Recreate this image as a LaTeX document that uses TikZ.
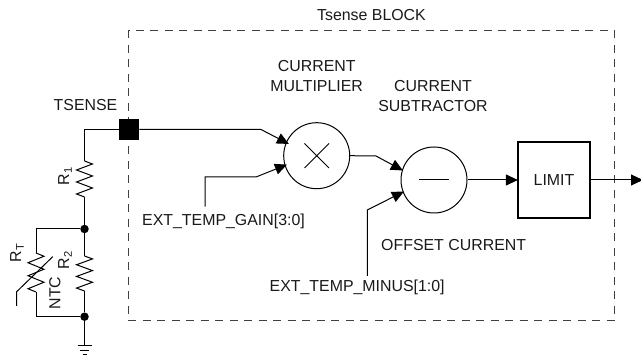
\documentclass[tikz,border=0pt]{standalone}
\usepackage{fontspec}
\setmainfont{Liberation Sans}
\usetikzlibrary{arrows.meta,calc}
\tikzset{
  wire/.style={draw=black,line width=1pt,line join=miter},
  sig/.style={wire,-{Triangle[length=12pt,width=11pt]},shorten >=-1pt},
  txt/.style={inner sep=0pt,font=\fontsize{15.9}{18}\selectfont,text=black!90},
  sop/.style={circle,draw=black,line width=1pt,minimum size=66pt,inner sep=0pt},
  dotn/.style={circle,fill=black,minimum size=8.5pt,inner sep=0pt},
  zig/.style={wire}
}
\newcommand{\vzig}[3]{% x, ytop, ybottom : zigzag with 3 full periods
  \pgfmathsetmacro{\zs}{(#3-#2)/6}
  \draw[zig] (#1,#2) -- ++(8,\zs*0.5) -- ++(-16,\zs) -- ++(16,\zs) -- ++(-16,\zs) -- ++(16,\zs) -- ++(-16,\zs) -- ++(8,\zs*0.5);
}
\begin{document}
\begin{tikzpicture}[x=1pt,y=-1pt]
\useasboundingbox (0,0) rectangle (641,355);
\draw[line width=1pt,draw=black!75,dash pattern=on 8pt off 6.5pt] (128.5,30.5) rectangle (614,321);

\node[txt] (title) at (371.5,15.5) {Tsense BLOCK};
\node[txt] (tsense) at (85.5,105) {TSENSE};
\node[txt] (m1) at (316.7,66.5) {CURRENT};
\node[txt] (m2) at (316.7,86.5) {MULTIPLIER};
\node[txt] (s1) at (433,86.5) {CURRENT};
\node[txt] (s2) at (433,106.5) {SUBTRACTOR};
\node[txt,anchor=west] (gain) at (142,221) {EXT\_TEMP\_GAIN[3:0]};
\node[txt,anchor=west] (offs) at (381,245) {OFFSET CURRENT};
\node[txt,anchor=west] (minus) at (269.5,287) {EXT\_TEMP\_MINUS[1:0]};
\node[txt,rotate=90] (r1) at (65,176) {R\textsubscript{1}};
\node[txt,rotate=90] (r2) at (65,260) {R\textsubscript{2}};
\node[txt,rotate=90] (rt) at (17,253) {R\textsubscript{T}};
\node[txt,rotate=90] (ntc) at (55,293) {NTC};

\node[fill=black,minimum size=20.5pt,inner sep=0pt] (pin) at (129,129.5) {};
\node[sop] (mul) at (316.7,155.7) {};
\node[sop] (sub) at (434,180) {};
\node[draw=black,line width=2.2pt,minimum width=72pt,minimum height=76pt,inner sep=0pt,txt] (lim) at (554,180) {LIMIT};
\node[dotn] (j1) at (84.5,229) {};
\node[dotn] (j2) at (84.5,316.7) {};

\draw[wire] (304.5,143.5) -- (329,168) (329,143.5) -- (304.5,168);
\draw[wire] (419,180) -- (449,180);

% TSENSE pin to R1 to junction
\coordinate (r1t) at (84.5,161);
\coordinate (r1b) at (84.5,197);
\draw[wire] (pin.west) -| (r1t);
\vzig{84.5}{161}{197}
\draw[wire] (r1b) -- (j1);
% R2
\coordinate (r2t) at (84.5,256);
\coordinate (r2b) at (84.5,291);
\draw[wire] (j1) -- (r2t);
\vzig{84.5}{256}{291}
\draw[wire] (r2b) -- (j2);
% thermistor
\coordinate (rtt) at (36,253);
\coordinate (rtb) at (36,292);
\draw[wire] (j1) -| (rtt);
\vzig{36}{253}{292}
\draw[wire] (rtb) |- (j2);
\draw[wire] (16.7,306) -- (16.7,291.7) -- (52.7,256.7);
% ground
\coordinate (g) at (84.5,346);
\draw[wire] (j2) -- (g);
\draw[wire] (77.5,346) -- (91.5,346);
\draw[wire] (80,350.5) -- (89,350.5);
\draw[wire] (82.5,354.5) -- (86.5,354.5);

% signals
\coordinate (a1) at (261,129.5);
\draw[sig] (pin.east) -- (a1) -- (288,143.5);
\coordinate (b0) at (205,206.7);
\coordinate (b1) at (205,177);
\coordinate (b2) at (256,177);
\draw[sig] (b0) -- (b1) -- (b2) -- (286,165);
\coordinate (c1) at (376,156);
\draw[sig] (mul.east) -- (c1) -- (402,170);
\coordinate (d0) at (367.3,276);
\coordinate (d1) at (367.3,210);
\draw[sig] (d0) -- (d1) -- (403,192);
\draw[sig] (sub.east) -- (lim.west);
\coordinate (e) at (642,180);
\draw[sig] (lim.east) -- (e);
\end{tikzpicture}
\end{document}
